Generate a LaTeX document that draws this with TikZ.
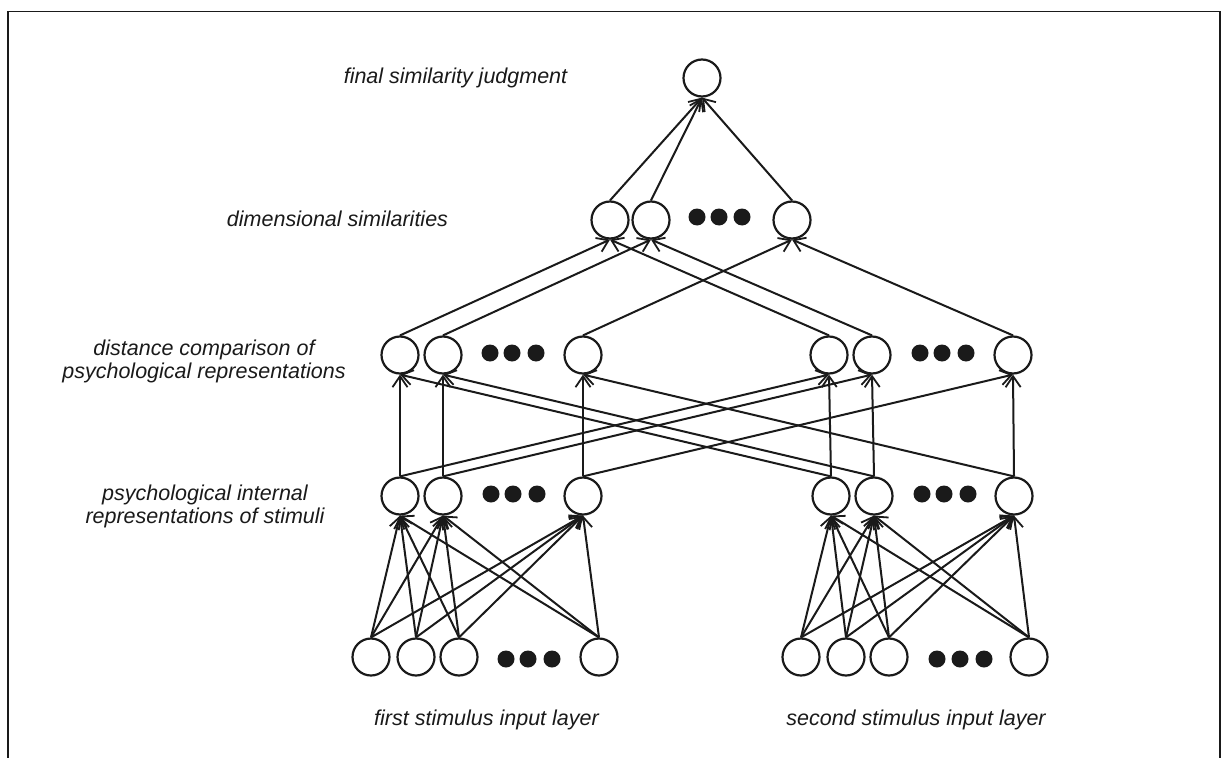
\documentclass[tikz,border=0pt]{standalone}
\usepackage{fontspec}
\setmainfont{Liberation Sans}
\usetikzlibrary{arrows.meta}
\definecolor{ink}{HTML}{1A1A1A}

\begin{document}
\begin{tikzpicture}[x=1pt,y=-1pt,
  unit/.style={circle,draw=ink,line width=2.2pt,minimum size=37pt,inner sep=0pt,fill=white},
  dotmark/.style={circle,fill=ink,minimum size=17pt,inner sep=0pt},
  link/.style={draw=ink,line width=2pt,-{Straight Barb[length=11pt,width=15pt,line width=1.8pt]}},
  layerlabel/.style={font=\fontsize{21.5}{22.5}\selectfont\itshape,text=ink,inner sep=0pt,align=center}
]
\useasboundingbox (0,0) rectangle (1225,757);

% open frame
\draw[ink,line width=1.8pt] (8,800) -- (8,11.5) -- (1220,11.5) -- (1220,800);

% output unit
\node[unit] (top) at (702,78) {};

% dimensional similarities
\node[unit] (d1) at (610,220) {};
\node[unit] (d2) at (651,220) {};
\node[unit] (d3) at (792,220) {};
\node[dotmark] (dd1) at (697,217) {};
\node[dotmark] (dd2) at (719,217) {};
\node[dotmark] (dd3) at (742,217) {};

% distance comparisons
\node[unit] (cL1) at (400,355) {};
\node[unit] (cL2) at (443,355) {};
\node[unit] (cL3) at (583,355) {};
\node[unit] (cR1) at (829,355) {};
\node[unit] (cR2) at (872,355) {};
\node[unit] (cR3) at (1013,355) {};
\foreach \n/\x in {1/490,2/512,3/536} \node[dotmark] (cdL\n) at (\x,353) {};
\foreach \n/\x in {1/920,2/942,3/966} \node[dotmark] (cdR\n) at (\x,353) {};

% internal representations
\node[unit] (pL1) at (400,496) {};
\node[unit] (pL2) at (443,496) {};
\node[unit] (pL3) at (583,496) {};
\node[unit] (pR1) at (831,496) {};
\node[unit] (pR2) at (874,496) {};
\node[unit] (pR3) at (1014,496) {};
\foreach \n/\x in {1/491,2/513,3/537} \node[dotmark] (pdL\n) at (\x,494) {};
\foreach \n/\x in {1/922,2/944,3/968} \node[dotmark] (pdR\n) at (\x,494) {};

% input layers
\node[unit] (iL1) at (371,657) {};
\node[unit] (iL2) at (416,657) {};
\node[unit] (iL3) at (459,657) {};
\node[unit] (iL4) at (599,657) {};
\node[unit] (iR1) at (801,657) {};
\node[unit] (iR2) at (846,657) {};
\node[unit] (iR3) at (889,657) {};
\node[unit] (iR4) at (1029,657) {};
\foreach \n/\x in {1/506,2/528,3/552} \node[dotmark] (idL\n) at (\x,659) {};
\foreach \n/\x in {1/937,2/960,3/984} \node[dotmark] (idR\n) at (\x,659) {};

% connections
\foreach \k in {1,2,3} \draw[link] (d\k.north) -- (top.south);
\foreach \k in {1,2,3} {
  \draw[link] (cL\k.north) -- (d\k.south);
  \draw[link] (cR\k.north) -- (d\k.south);
}
\foreach \k in {1,2,3} {
  \draw[link] (pL\k.north) -- (cL\k.south);
  \draw[link] (pL\k.north) -- (cR\k.south);
  \draw[link] (pR\k.north) -- (cR\k.south);
  \draw[link] (pR\k.north) -- (cL\k.south);
}
\foreach \s in {L,R} \foreach \i in {1,2,3,4} \foreach \j in {1,2,3}
  \draw[link] (i\s\i.north) -- (p\s\j.south);

% layer labels
\node[layerlabel,anchor=base] (lt) at (455.5,84) {final similarity judgment};
\node[layerlabel,anchor=base] (ld) at (337.5,226) {dimensional similarities};
\node[layerlabel] (lc) at (204,361.5) {distance comparison of\\psychological representations};
\node[layerlabel] (lp) at (205,506.5) {psychological internal\\representations of stimuli};
\node[layerlabel,anchor=base] (l1) at (486.5,725) {first stimulus input layer};
\node[layerlabel,anchor=base] (l2) at (916,725) {second stimulus input layer};
\end{tikzpicture}
\end{document}
